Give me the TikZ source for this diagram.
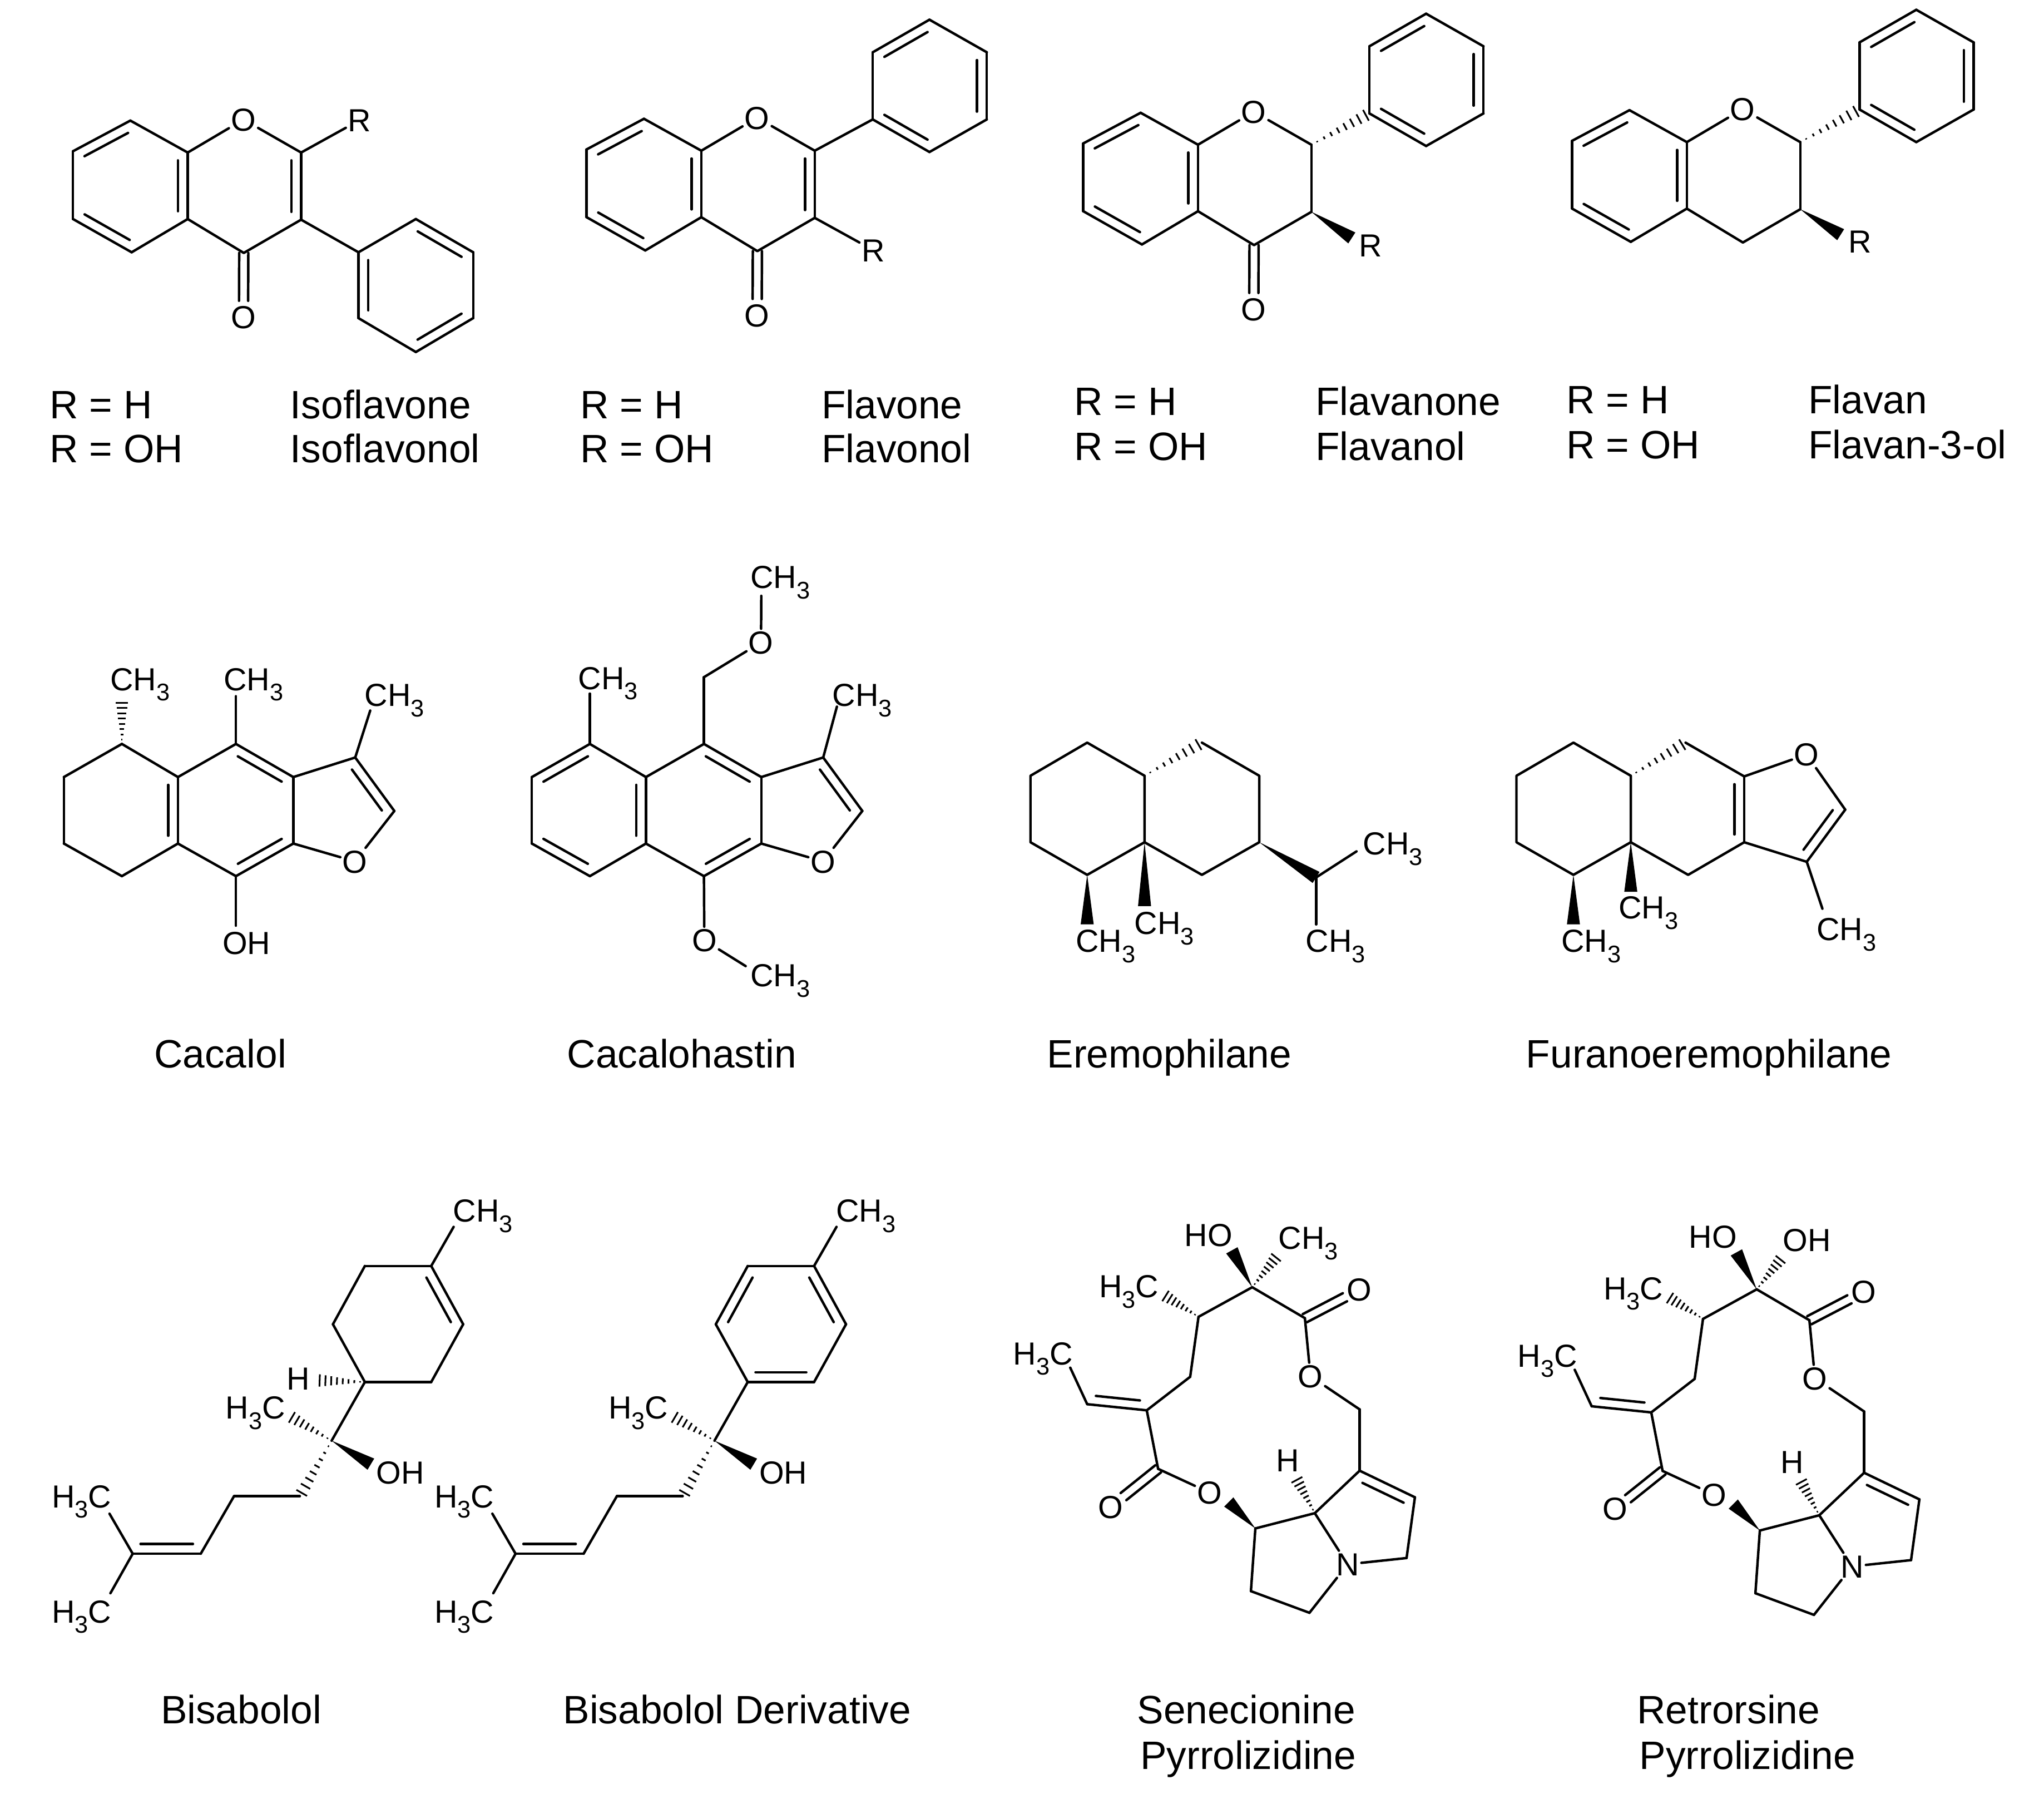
\documentclass[tikz,border=0pt]{standalone}
\usepackage{fontspec}
\setmainfont{Liberation Sans}
\usetikzlibrary{calc}
\tikzset{
  bond/.style={line width=1.9pt,line cap=round,line join=round,black},
  hashl/.style={line width=1.3pt,black},
  atom/.style={font=\fontsize{24.5}{24.5}\selectfont,inner sep=1.5pt,text height=17.5pt,text depth=0pt},
  bigtxt/.style={font=\fontsize{30.4}{30.4}\selectfont,inner sep=0pt,text height=21.8pt,text depth=0pt}
}
\newcommand\subn[1]{\raisebox{-.32em}{\fontsize{18.5}{18.5}\selectfont #1}}
\newcommand\CHt{CH\subn{3}}
\newcommand\HtC{H\subn{3}C}
\newcommand\atm[3]{\coordinate (#1) at (#2,#3);}
\newcommand\lab[4]{\node[atom,xshift=0.8pt,yshift=0.8pt] (#1) at (#2,#3) {#4};}
\newcommand\labw[4]{\node[atom,anchor=west,xshift=-1pt] (#1) at (#2,#3) {#4};}
\newcommand\txtw[4]{\node[bigtxt,anchor=west] (#1) at (#2,#3) {#4};}
\newcommand\txtc[4]{\node[bigtxt] (#1) at (#2,#3) {#4};}
\newcommand\bnd[2]{\draw[bond] (#1)--(#2);}
\newcommand\dbl[3]{\draw[bond] (#1)--(#2);
  \draw[bond,shorten <=6pt,shorten >=6pt] ($(#1)!#3pt!90:(#2)$)--($(#2)!#3pt!-90:(#1)$);}
\newcommand\dbo[2]{\draw[bond,shorten >=12.5pt] ($(#1)!3.5pt!90:(#2)$)--($(#2)!3.5pt!-90:(#1)$);
  \draw[bond,shorten >=12.5pt] ($(#1)!-3.5pt!90:(#2)$)--($(#2)!-3.5pt!-90:(#1)$);}
\newcommand\wdg[2]{\fill[black] (#1)--($(#2)!5pt!90:(#1)$)--($(#2)!-5pt!90:(#1)$)--cycle;}
\newcommand\hsh[2]{\coordinate (hL) at ($(#2)!5pt!90:(#1)$);\coordinate (hR) at ($(#2)!-5pt!90:(#1)$);
  \foreach \hv in {0.1,0.22,...,1.0}{\draw[hashl] ($(#1)!\hv!(hL)$)--($(#1)!\hv!(hR)$);}}
% flavonoid core, in the frame of the first molecule
\newcommand\benzo{%
  \atm{a}{100}{92.5}\atm{b}{56}{116}\atm{c}{56}{168}\atm{d}{101}{193.5}\atm{e}{144}{168}\atm{f}{144}{117}
  \atm{g}{231}{117}\atm{h}{231}{168.5}\atm{i}{187}{194}
  \lab{O}{186}{92.5}{O}
  \dbl{a}{b}{7.5}\bnd{b}{c}\dbl{c}{d}{7.5}\bnd{d}{e}\dbl{e}{f}{7.5}\bnd{f}{a}
  \draw[bond] (f)--(O)--(g); \draw[bond] (e)--(i)--(h);}
\newcommand\phenq[2]{\begin{scope}[shift={(#1,#2)}]
  \atm{q1}{275.5}{93}\atm{q2}{275.5}{41.5}\atm{q3}{319}{16.5}\atm{q4}{363}{41.5}\atm{q5}{363}{93}\atm{q6}{319}{118}
  \end{scope}
  \bnd{q1}{q2}\dbl{q3}{q2}{7.5}\bnd{q3}{q4}\dbl{q5}{q4}{7.5}\bnd{q5}{q6}\dbl{q1}{q6}{7.5}}
% cacalol tricycle
\newcommand\cacacore{%
  \atm{a}{93.5}{570.6}\atm{b}{49}{596}\atm{c}{49}{647}\atm{d}{93.5}{672}\atm{e}{136.5}{647}\atm{f}{136.5}{596}
  \atm{g}{181}{570.6}\atm{h}{225}{596}\atm{i}{225}{647}\atm{j}{181}{672}\atm{k}{272.5}{581}\atm{l}{302.5}{622}
  \lab{O}{271.5}{661.5}{O}
  \bnd{b}{c}\bnd{d}{e}\bnd{f}{a}\dbl{e}{f}{7.5}\bnd{f}{g}\dbl{h}{g}{7.5}\bnd{h}{i}\dbl{j}{i}{7.5}\bnd{j}{e}
  \bnd{h}{k}\dbl{l}{k}{7.5}\draw[bond] (l)--(O)--(i);}
% bisabolol chain
\newcommand\bischain{%
  \atm{r1}{330.8}{971}\atm{r2}{279.9}{971}\atm{r3}{255.4}{1015.7}\atm{r4}{279.9}{1060}\atm{r5}{330.8}{1060}\atm{r6}{355.3}{1015.7}
  \atm{m}{348}{941}\atm{z}{254.4}{1105}\atm{me}{222}{1086}\atm{oh}{284.5}{1123}
  \atm{c1}{230}{1147.6}\atm{c2}{179.5}{1147.6}\atm{c3}{154}{1191.7}\atm{c4}{101.8}{1191.7}\atm{m1}{84}{1161}\atm{m2}{84.7}{1222}
  \labw{CHa}{347}{928.6}{\CHt}
  \labw{HCa}{172.5}{1079.6}{\HtC}
  \labw{OHa}{288}{1129.4}{OH}
  \labw{HCb}{39}{1147.6}{\HtC}
  \labw{HCc}{39}{1236}{\HtC}
  \bnd{r1}{m}\bnd{r4}{z}\hsh{z}{me}\wdg{z}{oh}\hsh{z}{c1}
  \bnd{c1}{c2}\bnd{c2}{c3}\dbl{c4}{c3}{7.5}\bnd{c4}{m1}\bnd{c4}{m2}}
% macrocycle
\newcommand\pyrro[1]{%
  \atm{s1}{960.6}{987.3}\atm{s2}{919.4}{1010}\atm{s3}{913}{1056}\atm{s4}{879.7}{1081.7}\atm{s5}{834}{1077}
  \atm{s6}{821}{1049}\atm{s7}{888.4}{1126.6}\atm{s8}{963}{1172.3}\atm{s9}{1008.6}{1160.6}
  \atm{s10}{959.6}{1220.4}\atm{s11}{1004.5}{1237}\atm{s12}{1079}{1195}\atm{s13}{1085.4}{1148.4}
  \atm{s14}{1043}{1128}\atm{s15}{1043}{1081}\atm{s16}{1001}{1011}
  \atm{w1}{945}{959}\atm{w2}{980}{963}\atm{w3}{892.5}{993}\atm{w4}{942.6}{1152}\atm{w5}{994}{1133.4}
  \labw{HO}{908}{947}{HO}
  \labw{top}{980}{949.5}{#1}
  \labw{HCa}{842.5}{986.5}{\HtC}
  \labw{HCb}{776.5}{1038}{\HtC}
  \lab{Oa}{851.3}{1156.5}{O}
  \lab{Ob}{927}{1145.6}{O}
  \lab{Oc}{1004.5}{1056.4}{O}
  \lab{Od}{1042}{990}{O}
  \lab{N}{1033}{1200.6}{N}
  \lab{Hh}{987}{1120.6}{H}
  \wdg{s1}{w1}\hsh{s1}{w2}\hsh{s2}{w3}\wdg{s8}{w4}\hsh{s9}{w5}
  \bnd{s1}{s2}\bnd{s1}{s16}\bnd{s2}{s3}\bnd{s3}{s4}\dbl{s5}{s4}{7}\bnd{s5}{s6}\bnd{s4}{s7}
  \dbo{s7}{Oa}\dbo{s16}{Od}
  \draw[bond] (s7)--(Ob);\draw[bond] (s16)--(Oc)--(s15);
  \bnd{s15}{s14}\dbl{s13}{s14}{7.5}\bnd{s14}{s9}\bnd{s9}{s8}\bnd{s8}{s10}\bnd{s10}{s11}
  \draw[bond] (s11)--(N)--(s9);\draw[bond] (N)--(s12);\bnd{s12}{s13}}
\begin{document}
\begin{tikzpicture}[x=1pt,y=-1pt]
\useasboundingbox (0,0) rectangle (1568,1375.6);
\fill[white] (0,0) rectangle (1568,1375.6);
% ---- row 1
\begin{scope}[name prefix=mA-]
  \benzo
  \dbl{h}{g}{7.5}
  \lab{Oc}{186}{244}{O}\dbo{i}{Oc}
  \lab{R}{275}{93}{R}
  \draw[bond] (g)--(R);
  \atm{p1}{275}{193.5}\atm{p2}{319}{168}\atm{p3}{363}{193.5}\atm{p4}{363}{244}\atm{p5}{319}{270}\atm{p6}{275}{244}
  \bnd{h}{p1}\dbl{p1}{p6}{7.5}\bnd{p1}{p2}\dbl{p3}{p2}{7.5}\bnd{p3}{p4}\dbl{p5}{p4}{7.5}\bnd{p5}{p6}
\end{scope}
\begin{scope}[name prefix=mB-,shift={(394,-1.4)}]
  \benzo
  \dbl{h}{g}{7.5}
  \lab{Oc}{186}{244}{O}\dbo{i}{Oc}
  \lab{R}{275}{194}{R}
  \draw[bond] (h)--(R);
  \phenq{0}{0}\bnd{g}{q1}
\end{scope}
\begin{scope}[name prefix=mC-,shift={(775,-6)}]
  \benzo
  \bnd{g}{h}
  \lab{Oc}{186}{244}{O}\dbo{i}{Oc}
  \lab{R}{275.5}{195}{R}\atm{rw}{262}{188.5}\wdg{h}{rw}
  \phenq{0}{0}\hsh{g}{q1}
\end{scope}
\begin{scope}[name prefix=mD-,shift={(1150,-8)}]
  \benzo
  \bnd{g}{h}
  \lab{R}{276}{194}{R}\atm{rw}{262}{188}\wdg{h}{rw}
  \phenq{1}{-1}\hsh{g}{q1}
\end{scope}
\txtw{a1}{38}{310}{R = H}\txtw{a2}{38}{344}{R = OH}
\txtw{a3}{222.5}{310}{Isoflavone}\txtw{a4}{222.5}{344}{Isoflavonol}
\txtw{b1}{445}{310}{R = H}\txtw{b2}{445}{344}{R = OH}
\txtw{b3}{630}{310}{Flavone}\txtw{b4}{630}{344}{Flavonol}
\txtw{c1}{824}{307.5}{R = H}\txtw{c2}{824}{342}{R = OH}
\txtw{c3}{1009}{307.5}{Flavanone}\txtw{c4}{1009}{342}{Flavanol}
\txtw{d1}{1201.5}{306.5}{R = H}\txtw{d2}{1201.5}{341}{R = OH}
\txtw{d3}{1387}{306.5}{Flavan}\txtw{d4}{1387}{341}{Flavan-3-ol}
% ---- row 2: cacalol
\begin{scope}[name prefix=mE-]
  \cacacore
  \bnd{a}{b}\bnd{c}{d}
  \atm{h1}{93.5}{537}\hsh{a}{h1}
  \labw{m1}{84}{521}{\CHt}
  \atm{h2}{181}{534}\bnd{g}{h2}
  \labw{m2}{171}{521}{\CHt}
  \atm{h3}{284}{545}\bnd{k}{h3}
  \labw{m3}{279}{533}{\CHt}
  \labw{oh}{170}{723}{OH}
  \atm{h4}{181}{710}\bnd{j}{h4}
\end{scope}
% cacalohastin
\begin{scope}[name prefix=mF-,shift={(359,0)}]
  \cacacore
  \dbl{a}{b}{7.5}\dbl{c}{d}{7.5}
  \labw{m1}{84}{520}{\CHt}
  \atm{h1}{93.5}{532}\bnd{a}{h1}
  \atm{t1}{181}{519.4}\bnd{g}{t1}
  \lab{Ot}{224}{493.5}{O}
  \labw{m2}{216}{442.6}{\CHt}
  \atm{t2}{225}{457}
  \draw[bond] (t1)--(Ot)--(t2);
  \labw{m3}{279}{533}{\CHt}
  \atm{h3}{283}{542}\bnd{k}{h3}
  \lab{Ob}{180.5}{722}{O}
  \bnd{j}{Ob}
  \atm{b2}{213}{741}\bnd{Ob}{b2}
  \labw{m4}{216}{748}{\CHt}
\end{scope}
\txtc{e1}{169}{808}{Cacalol}
\txtc{e2}{523}{808}{Cacalohastin}
% eremophilane
\atm{ea}{834}{569.6}\atm{eb}{790.5}{595}\atm{ec}{790.5}{646}\atm{ed}{834}{671}\atm{ee}{878}{646}\atm{ef}{878}{595}
\atm{eg}{922}{569.6}\atm{eh}{966}{595}\atm{ei}{966}{646}\atm{ej}{922}{671}\atm{ek}{1009.6}{673}
\atm{el}{1040.6}{653}\atm{em}{1009.6}{709}\atm{en}{834}{709}\atm{eo}{878}{695}
\draw[bond] (ef)--(ea)--(eb)--(ec)--(ed)--(ee)--(ef);
\draw[bond] (eg)--(eh)--(ei)--(ej)--(ee);
\hsh{ef}{eg}\wdg{ei}{ek}\bnd{ek}{el}\bnd{ek}{em}\wdg{ed}{en}\wdg{ee}{eo}
\labw{eM1}{1045}{647}{\CHt}
\labw{eM2}{1001}{721.6}{\CHt}
\labw{eM3}{824.5}{721.6}{\CHt}
\labw{eM4}{869.5}{708}{\CHt}
\txtc{e3}{897}{808}{Eremophilane}
% furanoeremophilane
\atm{fa}{1207}{569.6}\atm{fb}{1163.3}{595}\atm{fc}{1163.3}{646}\atm{fd}{1207}{671}\atm{fe}{1251}{646}\atm{ff}{1251}{595}
\atm{fg}{1293}{569.6}\atm{fh}{1338}{595.5}\atm{fi}{1338}{646}\atm{fj}{1295}{671}\atm{fk}{1415.5}{621}\atm{fl}{1386}{661}
\atm{fm}{1398}{697}\atm{fn}{1251}{684}\atm{fo}{1207}{709}
\lab{fO}{1385}{579.5}{O}
\draw[bond] (ff)--(fa)--(fb)--(fc)--(fd)--(fe)--(ff);
\draw[bond] (fg)--(fh);\draw[bond] (fi)--(fj)--(fe);
\dbl{fi}{fh}{7.5}\draw[bond] (fh)--(fO)--(fk);\dbl{fl}{fk}{7.5}\bnd{fi}{fl}\bnd{fl}{fm}
\hsh{ff}{fg}\wdg{fe}{fn}\wdg{fd}{fo}
\labw{fM1}{1393}{712.7}{\CHt}
\labw{fM2}{1241}{696}{\CHt}
\labw{fM3}{1197}{721.6}{\CHt}
\txtc{e4}{1311}{808}{Furanoeremophilane}
% ---- row 3: bisabolol
\begin{scope}[name prefix=mG-]
  \bischain
  \bnd{r1}{r2}\bnd{r2}{r3}\bnd{r3}{r4}\bnd{r4}{r5}\bnd{r5}{r6}\dbl{r6}{r1}{7.5}
  \atm{hh}{243}{1058.7}\hsh{r4}{hh}
  \lab{Hh}{228}{1058}{H}
\end{scope}
\begin{scope}[name prefix=mH-,shift={(293.7,0)}]
  \bischain
  \bnd{r1}{r2}\dbl{r2}{r3}{7.5}\bnd{r3}{r4}\dbl{r4}{r5}{7.5}\bnd{r5}{r6}\dbl{r6}{r1}{7.5}
\end{scope}
\txtc{g1}{185}{1311}{Bisabolol}
\txtc{g2}{565.5}{1311}{Bisabolol Derivative}
\begin{scope}[name prefix=mI-]
  \pyrro{\CHt}
\end{scope}
\begin{scope}[name prefix=mJ-,shift={(387,1.6)}]
  \pyrro{OH}
\end{scope}
\txtc{g3}{956}{1311}{Senecionine}
\txtc{g4}{957.5}{1346}{Pyrrolizidine}
\txtc{g5}{1326}{1311}{Retrorsine}
\txtc{g6}{1340.5}{1346}{Pyrrolizidine}
\end{tikzpicture}
\end{document}
